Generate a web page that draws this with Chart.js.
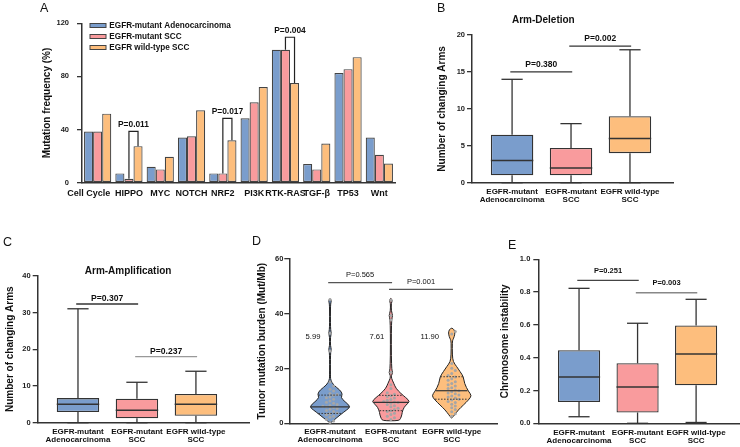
<!DOCTYPE html>
<html>
<head>
<meta charset="utf-8">
<title>EGFR panels</title>
<script src="https://cdn.jsdelivr.net/npm/chart.js@4.4.1/dist/chart.umd.min.js"></script>
<style>
  body { margin: 0; background: #fff; }
  #fig { position: relative; width: 740px; height: 447px; overflow: hidden; font-family: "Liberation Sans", Arial, sans-serif; }
  #fig canvas { position: absolute; }
  .tag { position: absolute; font-size: 12.5px; line-height: 1; color: #111; }
</style>
</head>
<body>
<div id="fig">
  <canvas id="chartA" width="400" height="210" style="left:0;top:0"></canvas>
  <canvas id="chartB" width="370" height="215" style="left:370px;top:0"></canvas>
  <canvas id="chartC" width="250" height="227" style="left:0;top:220px"></canvas>
  <canvas id="chartD" width="250" height="227" style="left:250px;top:220px"></canvas>
  <canvas id="chartE" width="250" height="227" style="left:490px;top:220px"></canvas>
  <div class="tag" style="left:40px;top:1.5px">A</div>
  <div class="tag" style="left:437px;top:1.5px">B</div>
  <div class="tag" style="left:3px;top:235.5px">C</div>
  <div class="tag" style="left:252px;top:235px">D</div>
  <div class="tag" style="left:508px;top:238.5px">E</div>
</div>
<script>
const FAM = '"Liberation Sans", Arial, sans-serif'
const INK = '#333'
const groupColors = ['#7a9dcc', '#f99b9d', '#fdbe7d']
const groupNames = ['EGFR-mutant Adenocarcinoma', 'EGFR-mutant SCC', 'EGFR wild-type SCC']
const groupTicks = [['EGFR-mutant', 'Adenocarcinoma'], ['EGFR-mutant', 'SCC'], ['EGFR wild-type', 'SCC']]

// A - pathway mutation frequency (%)
const pathways = ['Cell Cycle', 'HIPPO', 'MYC', 'NOTCH', 'NRF2', 'PI3K', 'RTK-RAS', 'TGF-β', 'TP53', 'Wnt']
const adenoFreq = [38.5, 7, 12, 34, 7, 48.5, 100, 14, 82.5, 34]
const mutSccFreq = [38.5, 3, 10, 35, 7, 60.5, 100, 10, 85.5, 21]
const wtSccFreq = [52, 27.5, 19.5, 54.5, 32, 72, 75, 29.5, 94.5, 14.5]
const freqTests = [
  { at: 1, label: 'P=0.011', level: 38.6 },
  { at: 4, label: 'P=0.017', level: 48.5 },
  { at: 6, label: 'P=0.004', level: 109.5 }
]

// B - arm deletion
const delMin = [0, 0, 0]
const delQ1 = [1, 1, 4]
const delMed = [3, 2, 6]
const delQ3 = [6.5, 4.7, 9]
const delMax = [14, 8, 18]
const delTests = [
  { from: 0, to: 1, label: 'P=0.380', level: 15 },
  { from: 1, to: 2, label: 'P=0.002', level: 18.5 }
]

// C - arm amplification
const ampMin = [0, 0, 0]
const ampQ1 = [2.9, 1.2, 1.9]
const ampMed = [5, 3.4, 5]
const ampQ3 = [6.7, 6.5, 7.8]
const ampMax = [31, 11, 14]
const ampTests = [
  { from: 0, to: 1, label: 'P=0.307', level: 32.3 },
  { from: 1, to: 2, label: 'P=0.237', level: 18 }
]

// D - tumor mutation burden
const blueTmb = [45.2, 32.9, 26.4, 15.1, 13.6, 12.4, 11.8, 10.9, 10.5, 10.2, 9.6, 9.3, 8.8, 8.1, 7.7, 7.3, 6.9, 6.5, 6.2, 6.0, 5.8, 5.4, 5.1, 4.7, 4.3, 3.8, 3.5, 3.1, 2.6, 2.2, 1.4, 0.8, 0.3]
const redTmb = [44.9, 39.4, 37.7, 18.6, 14.1, 12.7, 11.2, 10.6, 10.1, 9.8, 9.2, 8.7, 8.4, 8.0, 7.8, 7.6, 7.3, 6.9, 6.4, 6.0, 5.5, 5.0, 4.6, 4.3, 3.7, 3.2, 2.6, 2.0, 1.4]
const orangeTmb = [33.5, 32.6, 21.8, 20.1, 19.3, 18.2, 17.5, 16.9, 16.3, 15.7, 15.2, 14.5, 14.1, 13.6, 13.0, 12.7, 12.2, 11.9, 11.5, 11.1, 10.8, 10.3, 10.0, 9.6, 9.2, 8.8, 8.5, 8.0, 7.6, 7.0, 6.3, 5.7, 5.0, 4.2, 3.5, 2.6]
// [value, relative density]
const blueShape = [[0, 0.05], [1.2, 0.19], [3.0, 0.48], [4.9, 0.81], [6.1, 1.0], [7.9, 0.72], [9.4, 0.52], [10.6, 0.61], [12.2, 0.48], [14, 0.16], [15.8, 0.035], [17, 0.02], [25.8, 0.02], [27, 0.07], [28.2, 0.02], [31.6, 0.02], [33, 0.07], [34.3, 0.02], [43.6, 0.02], [44.4, 0.065], [45.2, 0.04], [45.6, 0]]
const redShape = [[0.9, 0], [1.0, 0.39], [1.6, 0.46], [3.0, 0.53], [4.9, 0.57], [6.7, 0.72], [7.9, 0.93], [9.4, 0.72], [10.9, 0.48], [12.8, 0.24], [14.6, 0.14], [16.4, 0.03], [17.5, 0.025], [18.6, 0.1], [19.7, 0.025], [37.8, 0.02], [39.3, 0.1], [40.9, 0.02], [44, 0.02], [44.7, 0.07], [45.4, 0.03], [45.7, 0]]
const orangeShape = [[1.8, 0], [2.1, 0.035], [3.0, 0.13], [4.9, 0.32], [6.7, 0.57], [8.5, 0.81], [10.1, 0.97], [11.6, 0.81], [14.6, 0.61], [17.0, 0.57], [18.9, 0.4], [20.7, 0.24], [22.5, 0.065], [25, 0.03], [29.7, 0.025], [30.6, 0.06], [31.6, 0.12], [33, 0.16], [34.2, 0.12], [34.9, 0]]
const tmbQ1 = [3.6, 4.6, 8.8]
const tmbMed = [5.99, 7.61, 11.9]
const tmbQ3 = [10.3, 10.2, 17.0]
const tmbTests = [
  { from: 0, to: 1, label: 'P=0.565', level: 51.4 },
  { from: 1, to: 2, label: 'P=0.001', level: 48.9 }
]

// E - chromosome instability
const cinMin = [0.04, 0, 0.005]
const cinQ1 = [0.13, 0.066, 0.232]
const cinMed = [0.282, 0.222, 0.423]
const cinQ3 = [0.446, 0.366, 0.596]
const cinMax = [0.823, 0.61, 0.756]
const cinTests = [
  { from: 0, to: 1, label: 'P=0.251', level: 0.872 },
  { from: 1, to: 2, label: 'P=0.003', level: 0.796 }
]

const font = (size, weight) => ({ family: FAM, size: size, weight: weight || 'normal' })
const css = (size, weight) => (weight || 'normal') + ' ' + size + 'px ' + FAM

function seg(ctx, x1, y1, x2, y2) {
  ctx.beginPath()
  ctx.moveTo(x1, y1)
  ctx.lineTo(x2, y2)
  ctx.stroke()
}

function yAxis(o) {
  return {
    min: o.min,
    max: o.max,
    ticks: { stepSize: o.step, color: '#222', font: font(7.5, 'bold'), padding: o.pad, callback: o.fmt || (v => v) },
    grid: { drawOnChartArea: false, tickLength: 5, color: INK, lineWidth: 1.3 },
    border: { color: INK, width: 1.5 },
    title: { display: true, text: o.title, color: '#111', font: font(10, 'bold'), padding: { top: 4, bottom: 4 } },
    afterFit: s => { s.width = o.width }
  }
}

function groupAxis(o) {
  return {
    type: 'linear',
    min: o.min,
    max: o.max,
    offset: false,
    afterBuildTicks: s => { s.ticks = [0, 1, 2].map(v => ({ value: v })) },
    ticks: { color: '#111', font: { family: FAM, size: 8, weight: 'bold', lineHeight: 1 }, padding: o.pad, maxRotation: 0, autoSkip: false, callback: v => groupTicks[v] },
    grid: { display: false, drawTicks: false },
    border: { color: INK, width: 1.5 },
    afterFit: s => { s.height = o.height }
  }
}

// title + p-value lines for panels B-E
function annotations(s) {
  return {
    id: 'annotations',
    afterDraw(chart) {
      const { ctx, scales: { x, y } } = chart
      ctx.save()
      if (s.title) {
        ctx.font = css(10, 'bold')
        ctx.fillStyle = '#111'
        ctx.textAlign = 'center'
        ctx.textBaseline = 'middle'
        ctx.fillText(s.title.text, x.getPixelForValue(s.title.at), s.title.y)
      }
      s.tests.forEach((t, k) => {
        const x1 = x.getPixelForValue(t.from - 0.03)
        const x2 = x.getPixelForValue(t.to + 0.02)
        const yy = y.getPixelForValue(t.level)
        ctx.strokeStyle = s.testColors[k]
        ctx.lineWidth = 1.3
        seg(ctx, x1, yy, x2, yy)
        ctx.font = s.testFont
        ctx.fillStyle = '#111'
        ctx.textAlign = 'center'
        ctx.textBaseline = 'alphabetic'
        ctx.fillText(t.label, (x1 + x2) / 2, yy - s.testGap)
      })
      ctx.restore()
    }
  }
}

function whiskers(st) {
  return {
    id: 'whiskers',
    afterDatasetsDraw(chart) {
      const { ctx, scales: { y } } = chart
      const py = v => y.getPixelForValue(v)
      ctx.save()
      ctx.strokeStyle = INK
      ctx.lineWidth = 1.3
      chart.getDatasetMeta(0).data.forEach((bar, i) => {
        const h = bar.width / 2
        const cx = bar.x
        seg(ctx, cx, py(st.q3[i]), cx, py(st.max[i]))
        seg(ctx, cx - h / 2, py(st.max[i]), cx + h / 2, py(st.max[i]))
        seg(ctx, cx, py(st.q1[i]), cx, py(st.min[i]))
        seg(ctx, cx - h / 2, py(st.min[i]), cx + h / 2, py(st.min[i]))
        ctx.lineWidth = 1.5
        seg(ctx, cx - h, py(st.med[i]), cx + h, py(st.med[i]))
        ctx.lineWidth = 1.3
      })
      ctx.restore()
    }
  }
}

function boxChart(id, s) {
  const st = s.stats
  return new Chart(document.getElementById(id), {
    type: 'bar',
    data: {
      datasets: [{
        data: st.q1.map((q, i) => ({ x: i, y: [q, st.q3[i]] })),
        backgroundColor: groupColors,
        borderColor: INK,
        borderWidth: 1.3,
        borderSkipped: false,
        barPercentage: 0.72,
        categoryPercentage: 1
      }]
    },
    options: {
      responsive: false,
      animation: false,
      devicePixelRatio: 1,
      layout: { padding: s.padding },
      plugins: { legend: { display: false }, tooltip: { enabled: false } },
      scales: { x: groupAxis(s.x), y: yAxis(s.y) }
    },
    plugins: [whiskers(st), annotations(s)]
  })
}

// ---- A
const freqLegend = {
  id: 'freqLegend',
  afterDraw(chart) {
    const { ctx, chartArea } = chart
    ctx.save()
    ctx.font = css(8.2, 'bold')
    ctx.textBaseline = 'middle'
    ctx.textAlign = 'left'
    chart.data.datasets.forEach((ds, i) => {
      const yy = chartArea.top + 2.2 + i * 11
      ctx.fillStyle = ds.backgroundColor
      ctx.fillRect(chartArea.left + 8, yy - 2, 16, 4)
      ctx.strokeStyle = '#444'
      ctx.lineWidth = 1
      ctx.strokeRect(chartArea.left + 8, yy - 2, 16, 4)
      ctx.fillStyle = '#111'
      ctx.fillText(ds.label, chartArea.left + 27.3, yy)
    })
    ctx.restore()
  }
}

const freqBrackets = {
  id: 'freqBrackets',
  afterDatasetsDraw(chart) {
    const { ctx, scales: { y } } = chart
    const mid = chart.getDatasetMeta(1).data
    const right = chart.getDatasetMeta(2).data
    ctx.save()
    ctx.strokeStyle = '#222'
    ctx.lineWidth = 1.2
    ctx.font = css(8.4, 'bold')
    ctx.fillStyle = '#111'
    ctx.textAlign = 'center'
    freqTests.forEach(t => {
      const a = mid[t.at], b = right[t.at]
      const top = y.getPixelForValue(t.level)
      ctx.beginPath()
      ctx.moveTo(a.x, a.y)
      ctx.lineTo(a.x, top)
      ctx.lineTo(b.x, top)
      ctx.lineTo(b.x, b.y)
      ctx.stroke()
      ctx.fillText(t.label, (a.x + b.x) / 2, top - 4)
    })
    ctx.restore()
  }
}

new Chart(document.getElementById('chartA'), {
  type: 'bar',
  data: {
    labels: pathways,
    datasets: [
      { label: groupNames[0], data: adenoFreq, backgroundColor: groupColors[0] },
      { label: groupNames[1], data: mutSccFreq, backgroundColor: groupColors[1] },
      { label: groupNames[2], data: wtSccFreq, backgroundColor: groupColors[2] }
    ]
  },
  options: {
    responsive: false,
    animation: false,
    devicePixelRatio: 1,
    layout: { padding: { left: 37, top: 23.3, right: 5, bottom: 0 } },
    datasets: { bar: { categoryPercentage: 0.87, barPercentage: 1, borderColor: '#444', borderWidth: 1.2, borderSkipped: false } },
    plugins: { legend: { display: false }, tooltip: { enabled: false } },
    scales: {
      x: {
        grid: { display: false, drawTicks: false },
        border: { color: INK, width: 1.5 },
        // the first label sits a little left of its group, as in the figure
        ticks: { color: '#111', font: font(9, 'bold'), padding: 5, maxRotation: 0, autoSkip: false,
          callback: (v, i) => i === 0 ? pathways[i] + '\u2002\u2002\u2002\u2002' : pathways[i] },
        afterFit: s => { s.height = 27.3 }
      },
      y: yAxis({ min: 0, max: 120, step: 40, title: 'Mutation frequency (%)', width: 45, pad: 8 })
    }
  },
  plugins: [freqLegend, freqBrackets]
})

// ---- B
boxChart('chartB', {
  stats: { min: delMin, q1: delQ1, med: delMed, q3: delQ3, max: delMax },
  tests: delTests,
  testColors: [INK, INK],
  testFont: css(8.5, 'bold'),
  testGap: 4.6,
  title: { text: 'Arm-Deletion', at: 0.53, y: 20 },
  padding: { left: 62, top: 35, right: 67, bottom: 0 },
  x: { min: -0.68, max: 2.73, height: 32.3, pad: 5.3 },
  y: { min: 0, max: 20, step: 5, title: 'Number of changing Arms', width: 40, pad: 2 }
})

// ---- C
boxChart('chartC', {
  stats: { min: ampMin, q1: ampQ1, med: ampMed, q3: ampQ3, max: ampMax },
  tests: ampTests,
  testColors: [INK, '#999'],
  testFont: css(8.6, 'bold'),
  testGap: 2.5,
  title: { text: 'Arm-Amplification', at: 0.85, y: 51 },
  padding: { left: 0, top: 55.7, right: 1, bottom: 0 },
  x: { min: -0.683, max: 2.9, height: 24.3, pad: 5 },
  y: { min: 0, max: 40, step: 10, title: 'Number of changing Arms', width: 37.7, pad: 2 }
})

// ---- D
function smoothPath(ctx, pts) {
  const n = pts.length
  const mid = (a, b) => [(a[0] + b[0]) / 2, (a[1] + b[1]) / 2]
  const m0 = mid(pts[n - 1], pts[0])
  ctx.beginPath()
  ctx.moveTo(m0[0], m0[1])
  for (let i = 0; i < n; i++) {
    const p = pts[i]
    const m = mid(p, pts[(i + 1) % n])
    ctx.quadraticCurveTo(p[0], p[1], m[0], m[1])
  }
  ctx.closePath()
}

function densityAt(shape, v) {
  for (let i = 1; i < shape.length; i++) {
    if (v <= shape[i][0]) {
      const [v0, d0] = shape[i - 1], [v1, d1] = shape[i]
      return d0 + (d1 - d0) * (v - v0) / (v1 - v0)
    }
  }
  return 0
}

function swarm(values, cx, y, r) {
  const placed = []
  values.slice().sort((a, b) => a - b).forEach(v => {
    const py = y.getPixelForValue(v)
    for (let k = 0; k < 40; k++) {
      const px = cx + (k % 2 ? 1 : -1) * Math.ceil(k / 2) * (2 * r + 0.6)
      if (placed.every(p => Math.hypot(p[0] - px, p[1] - py) >= 2 * r + 0.4)) {
        placed.push([px, py])
        break
      }
    }
  })
  return placed
}

const tmbShapes = [blueShape, redShape, orangeShape]
const tmbPoints = [blueTmb, redTmb, orangeTmb]

const violins = {
  id: 'violins',
  afterDatasetsDraw(chart) {
    const { ctx, scales: { x, y } } = chart
    const halfMax = 0.34 * (x.getPixelForValue(1) - x.getPixelForValue(0))
    ctx.save()
    tmbShapes.forEach((shape, g) => {
      const cx = x.getPixelForValue(g)
      const right = shape.map(([v, d]) => [cx + d * halfMax, y.getPixelForValue(v)])
      const left = shape.slice(1, -1).reverse().map(([v, d]) => [cx - d * halfMax, y.getPixelForValue(v)])
      smoothPath(ctx, right.concat(left))
      ctx.fillStyle = groupColors[g]
      ctx.fill()
      ctx.strokeStyle = '#222'
      ctx.lineWidth = 1
      ctx.stroke()

      ctx.fillStyle = '#a6a6a6'
      swarm(tmbPoints[g], cx, y, 1.5).forEach(([px, py]) => {
        ctx.beginPath()
        ctx.arc(px, py, 1.5, 0, Math.PI * 2)
        ctx.fill()
      })

      const across = (v) => {
        const w = densityAt(shape, v) * halfMax * 0.96
        seg(ctx, cx - w, y.getPixelForValue(v), cx + w, y.getPixelForValue(v))
      }
      ctx.strokeStyle = '#333'
      ctx.lineWidth = 1
      ctx.setLineDash([1.5, 1.5])
      across(tmbQ1[g])
      across(tmbQ3[g])
      ctx.setLineDash([])
      ctx.lineWidth = 1.2
      across(tmbMed[g])

      ctx.font = css(7.7)
      ctx.fillStyle = '#111'
      ctx.textAlign = 'center'
      ctx.textBaseline = 'middle'
      ctx.fillText(tmbMed[g].toFixed(2), x.getPixelForValue(g + [-0.28, -0.23, -0.36][g]), y.getPixelForValue(31.4))
    })
    ctx.restore()
  }
}

new Chart(document.getElementById('chartD'), {
  type: 'scatter',
  data: { datasets: [] },
  options: {
    responsive: false,
    animation: false,
    devicePixelRatio: 1,
    layout: { padding: { left: 2, top: 39, right: 3, bottom: 0 } },
    plugins: { legend: { display: false }, tooltip: { enabled: false } },
    scales: {
      x: groupAxis({ min: -0.669, max: 2.744, height: 23.7, pad: 4.4 }),
      y: yAxis({ min: 0, max: 60, step: 20, title: 'Tumor mutation burden (Mut/Mb)', width: 37.3, pad: 1 })
    }
  },
  plugins: [violins, annotations({ tests: tmbTests, testColors: ['#555', '#555'], testFont: css(7.5), testGap: 5.4 })]
})

// ---- E
boxChart('chartE', {
  stats: { min: cinMin, q1: cinQ1, med: cinMed, q3: cinQ3, max: cinMax },
  tests: cinTests,
  testColors: ['#444', '#888'],
  testFont: css(7.5, 'bold'),
  testGap: 7.4,
  padding: { left: 5, top: 39.3, right: 0, bottom: 0 },
  x: { min: -0.696, max: 2.75, height: 23.7, pad: 5 },
  y: { min: 0, max: 1, step: 0.2, title: 'Chromosome instability', width: 43.3, pad: 3, fmt: v => v.toFixed(1) }
})
</script>
</body>
</html>
